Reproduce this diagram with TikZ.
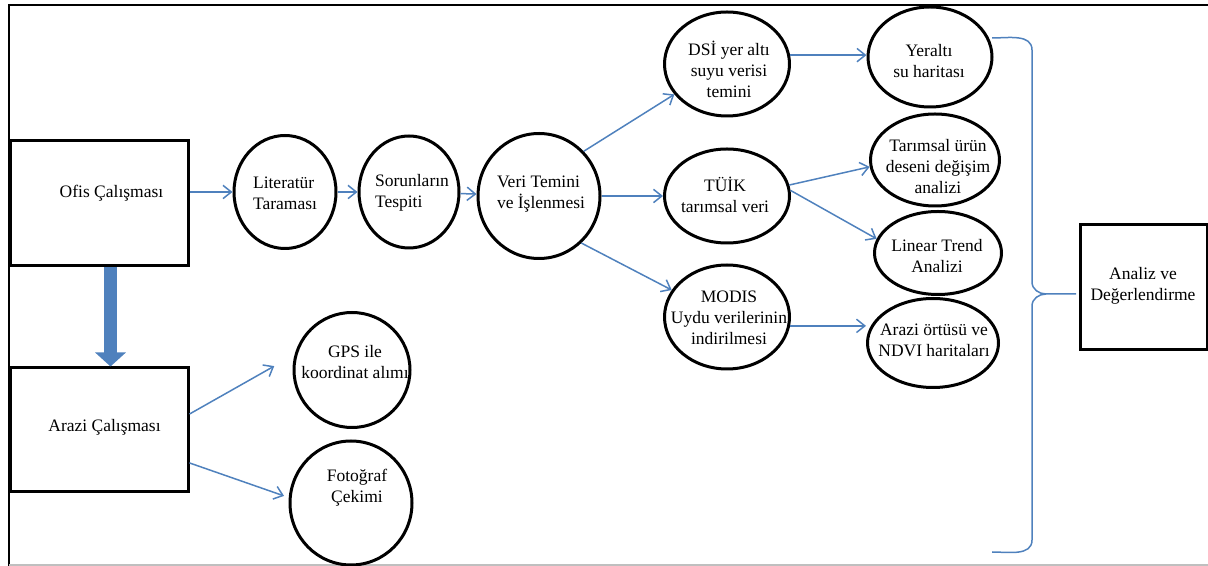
\documentclass[tikz,border=0pt]{standalone}
\usepackage{fontspec}
\setmainfont{Liberation Serif}
\usetikzlibrary{shapes.geometric,arrows.meta}
\definecolor{linkblue}{RGB}{79,129,189}

\tikzset{
  stepbox/.style={rectangle, draw, line width=1.8pt, minimum width=106.8pt, minimum height=75pt},
  oval/.style={ellipse, draw, line width=1.8pt, inner sep=0pt},
  txt/.style={inner sep=0pt, align=center, font=\fontsize{10.5}{12.6}\selectfont},
  link/.style={draw=linkblue, line width=0.9pt, -{Straight Barb[length=5pt,width=8pt]}},
}

\begin{document}
\begin{tikzpicture}[x=0.6pt, y=-0.6pt]
  \useasboundingbox (0,0) rectangle (1208,566);
  % frame
  \draw[line width=1.2pt] (1208,5) -- (9,5) -- (9,566);
  \draw[gray!50, line width=1.2pt] (9,565) -- (1208,565);

  % boxes
  \node[stepbox] (ofis) at (99,203.5) {};
  \node[txt] (ofis-t) at (111.5,193) {Ofis Çalışması};
  \node[stepbox, minimum height=74.4pt] (arazi) at (99,430) {};
  \node[txt] (arazi-t) at (104.5,427) {Arazi Çalışması};
  \node[stepbox, minimum width=76.2pt] (analiz) at (1143.5,287) {};
  \node[txt] (analiz-t) at (1143,286) {Analiz ve\\Değerlendirme};

  % office chain
  \node[oval, minimum width=61.2pt, minimum height=67.8pt] (lit) at (285,192) {};
  \node[txt, align=left] (lit-t) at (285,193) {Literatür\\Taraması};
  \node[oval, minimum width=60pt, minimum height=67.2pt] (sor) at (409,192) {};
  \node[txt, align=left] (sor-t) at (412,193) {Sorunların\\Tespiti};
  \node[oval, minimum width=73.2pt, minimum height=75pt] (veri) at (539,196) {};
  \node[txt, align=left] (veri-t) at (541,194) {Veri Temini\\ve İşlenmesi};

  % data sources
  \node[oval, minimum width=75pt, minimum height=62.4pt] (dsi) at (727,64) {};
  \node[txt] (dsi-t) at (729,69) {DSİ yer altı\\suyu verisi\\temini};
  \node[oval, minimum width=75pt, minimum height=56.4pt] (tuik) at (727,196) {};
  \node[txt] (tuik-t) at (725,195) {TÜİK\\tarımsal veri};
  \node[oval, minimum width=75pt, minimum height=62.4pt] (modis) at (727,317) {};
  \node[txt] (modis-t) at (729,318) {MODIS\\Uydu verilerinin\\indirilmesi};

  % outputs
  \node[oval, minimum width=74.4pt, minimum height=60pt] (yeralti) at (930,57) {};
  \node[txt] (yeralti-t) at (929,61) {Yeraltı\\su haritası};
  \node[oval, minimum width=77.4pt, minimum height=55.2pt] (urun) at (935,160) {};
  \node[txt] (urun-t) at (938,167) {Tarımsal ürün\\deseni değişim\\analizi};
  \node[oval, minimum width=76.2pt, minimum height=49.8pt] (trend) at (938,253) {};
  \node[txt] (trend-t) at (937,256) {Linear Trend\\Analizi};
  \node[oval, minimum width=78.6pt, minimum height=53.4pt] (ortu) at (933,343) {};
  \node[txt] (ortu-t) at (934,340) {Arazi örtüsü ve\\NDVI haritaları};

  % field work
  \node[oval, minimum width=69.6pt, minimum height=69pt] (gps) at (352,370) {};
  \node[txt] (gps-t) at (355,362) {GPS ile\\koordinat alımı};
  \node[oval, minimum width=73.2pt, minimum height=74.4pt] (foto) at (351,503) {};
  \node[txt] (foto-t) at (357,488) {Fotoğraf\\Çekimi};

  % arrows
  \draw[link] (ofis.east |- lit) -- (lit);
  \draw[link] (lit) -- (sor);
  \draw[link] (sor) -- (veri);
  \draw[link] (veri.45) -- (dsi.210);
  \draw[link] (veri) -- (tuik);
  \draw[link] (veri.-48) -- (modis.154);
  \draw[link] (dsi.8) -- (dsi.8 -| yeralti.west);
  \draw[link] (tuik.10) -- (urun.186);
  \draw[link] (tuik.5) -- (trend.167);
  \draw[link] (modis.-8) -- (modis.-8 -| ortu.west);
  \draw[link, shorten >=14pt] (arazi.10) -- (gps.165);
  \draw[link, shorten >=3pt] (arazi.-20) -- (foto.175);
  \draw[linkblue, line width=7.8pt, -{Triangle[length=8.4pt, width=18pt]}]
    ([xshift=6.9pt]ofis.south) -- ([xshift=6.9pt]arazi.north);

  % brace
  \coordinate (bracetop) at (992,38);
  \coordinate (bracetip) at (1076,294);
  \coordinate (bracebot) at (992,552);
  \draw[linkblue, line width=0.9pt] (bracetop) to[out=0,in=90] (1032,50)
    -- (1032,282) to[out=-90,in=180] (1046,294) -- (bracetip);
  \draw[linkblue, line width=0.9pt] (1046,294) to[out=180,in=90] (1032,306)
    -- (1032,540) to[out=-90,in=0] (bracebot);
\end{tikzpicture}
\end{document}
